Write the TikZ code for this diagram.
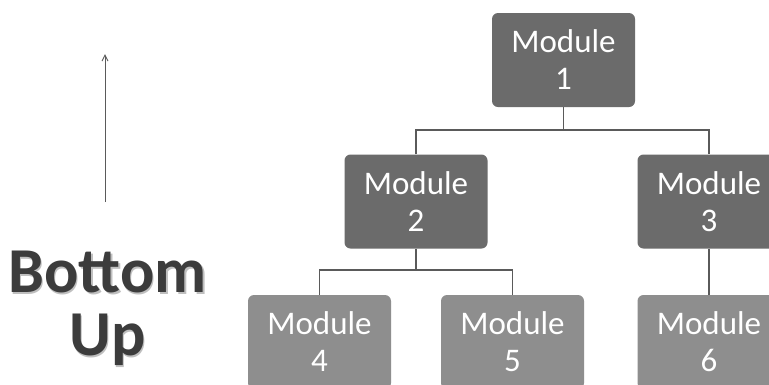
\documentclass[tikz,border=0pt]{standalone}
\usepackage{fontspec}
\usetikzlibrary{arrows.meta}
\setmainfont{Carlito}
\definecolor{boxdark}{HTML}{6B6B6B}
\definecolor{boxlight}{HTML}{8E8E8E}
\definecolor{linegray}{HTML}{5A5A5A}
\definecolor{titlegray}{HTML}{3C3C3C}
\begin{document}
\begin{tikzpicture}[x=1pt,y=-1pt,
  modbox/.style={rounded corners=6pt, minimum width=143pt, minimum height=94pt,
    text=white, font=\fontsize{33}{37}\selectfont, align=center, inner sep=0pt},
  dark/.style={modbox, fill=boxdark},
  light/.style={modbox, fill=boxlight},
  conn/.style={draw=linegray, line width=1.2pt},
  title/.style={font=\fontsize{64}{64}\selectfont\bfseries, text=titlegray},
  titleshadow/.style={font=\fontsize{64}{64}\selectfont\bfseries, text=black!25}]
\useasboundingbox (0,0) rectangle (769,384);
\clip (0,0) rectangle (769,384);
\fill[white] (0,0) rectangle (769,384);
% boxes
\node[dark]  (m1) at (563.5,60)  {Module\\1};
\node[dark]  (m2) at (416,201.5) {Module\\2};
\node[dark]  (m3) at (709,201.5) {Module\\3};
\node[light] (m4) at (319.5,342) {Module\\4};
\node[light] (m5) at (512.5,342) {Module\\5};
\node[light] (m6) at (709,342)   {Module\\6};
% connectors
\coordinate (j1) at (563.5,130);
\coordinate (j2) at (416,270);
\draw[conn] (m1.south) -- (j1);
\draw[conn] (m2.north) |- (j1) -| (m3.north);
\draw[conn] (m2.south) -- (j2);
\draw[conn] (m4.north) |- (j2) -| (m5.north);
\draw[conn] (m3.south) -- (m6.north);
% arrow
\coordinate (a0) at (105,202);
\coordinate (a1) at (105,54);
\draw[linegray, line width=1pt, -{Straight Barb[length=6pt,width=6pt]}] (a0) -- (a1);
% title
\node[titleshadow] (tbs) at (109,273.5) {Bottom};
\node[title] (tb) at (107.5,272) {Bottom};
\node[titleshadow] (tus) at (109,341.5) {Up};
\node[title] (tu) at (107.5,340) {Up};
\end{tikzpicture}
\end{document}
